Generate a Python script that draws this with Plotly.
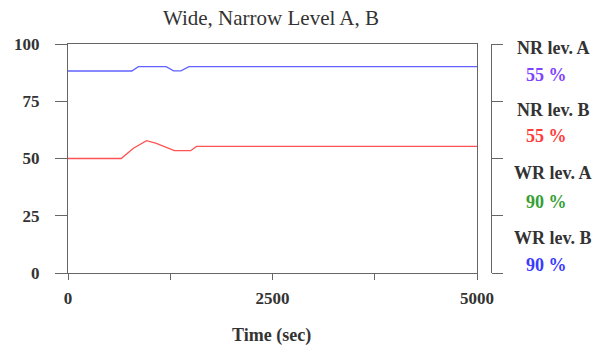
import plotly.graph_objects as go

time_blue = [0, 780, 860, 1200, 1290, 1380, 1480, 1560, 5000]
level_blue = [88.2, 88.2, 90.1, 90.1, 88.3, 88.3, 90.1, 90.1, 90.1]

time_red = [0, 650, 800, 960, 1080, 1300, 1500, 1570, 5000]
level_red = [50.0, 50.0, 54.5, 57.8, 56.6, 53.4, 53.4, 55.3, 55.3]

x_ticks = [0, 1250, 2500, 3750, 5000]
x_ticktext = ["0", "", "2500", "", "5000"]
y_ticks = [0, 25, 50, 75, 100]
y_ticktext = ["0", "25", "50", "75", "100"]

panel_names = ["NR lev. A", "NR lev. B", "WR lev. A", "WR lev. B"]
panel_values = ["55 %", "55 %", "90 %", "90 %"]
panel_colors = ["#8044ff", "#ff3c3c", "#34a034", "#3a3aff"]

SERIF = "Liberation Serif, Times New Roman, serif"
TXT = "#333333"
AX = "#666666"

# pixel geometry of the figure
W, H = 599, 351
L, R_AX, T, B = 68, 491, 44, 273
FRAME_R = 477
PW, PH = R_AX - L, B - T


def px(xp):
    return (xp - L) / PW


def py(yp):
    return (B - yp) / PH


def bold(labels):
    return ["<b>" + s + "</b>" if s else "" for s in labels]


fig = go.Figure()
fig.add_trace(go.Scatter(x=time_blue, y=level_blue, mode="lines",
                         line=dict(color="#6262ff", width=1.3), showlegend=False))
fig.add_trace(go.Scatter(x=time_red, y=level_red, mode="lines",
                         line=dict(color="#ff5252", width=1.3), showlegend=False))
fig.add_trace(go.Scatter(x=[0], y=[0], yaxis="y2", mode="markers",
                         marker=dict(opacity=0), showlegend=False, hoverinfo="skip"))

tickfont = dict(family=SERIF, size=17, color=TXT)

fig.update_layout(
    width=W, height=H,
    margin=dict(l=L, r=W - R_AX, t=T, b=H - B, pad=0),
    paper_bgcolor="white", plot_bgcolor="white",
    font=dict(family=SERIF, color=TXT),
    title=dict(text="Wide, Narrow Level A, B", x=271 / W, xref="container",
               y=1 - 18 / H, yref="container", xanchor="center", yanchor="middle",
               font=dict(family=SERIF, size=21, color=TXT)),
    xaxis=dict(range=[0, 5000], domain=[0, (FRAME_R - L) / PW],
               tickvals=x_ticks, ticktext=bold(x_ticktext),
               ticks="outside", ticklen=6, tickcolor=AX, tickwidth=1.2,
               showline=True, linecolor=AX, linewidth=1.2, mirror=True,
               showgrid=False, zeroline=False, tickfont=tickfont, ticklabelstandoff=3),
    yaxis=dict(range=[0, 100], tickvals=y_ticks, ticktext=bold(y_ticktext),
               ticks="outside", ticklen=12, tickcolor=AX, tickwidth=1.2,
               showline=True, linecolor=AX, linewidth=1.2, mirror=True,
               showgrid=False, zeroline=False, ticklabelstandoff=12,
               tickfont=tickfont),
    yaxis2=dict(range=[0, 100], tickvals=y_ticks, overlaying="y", side="right",
                anchor="free", position=1.0,
                showticklabels=False, ticks="outside", ticklen=11, tickcolor=AX,
                tickwidth=1.2, showline=True, linecolor=AX, linewidth=1.2,
                showgrid=False, zeroline=False),
)

fig.add_annotation(text="<b>Time (sec)</b>", x=px(271), y=py(336), xref="paper", yref="paper",
                   showarrow=False, xanchor="center", yanchor="middle",
                   font=dict(family=SERIF, size=18, color=TXT))

name_y = [48, 110, 173, 238]
value_y = [75, 136, 202, 265]
for name, val, col, yn, yv in zip(panel_names, panel_values, panel_colors, name_y, value_y):
    fig.add_annotation(text="<b>" + name + "</b>", x=px(553), y=py(yn),
                       xref="paper", yref="paper", showarrow=False, xanchor="center",
                       yanchor="middle", font=dict(family=SERIF, size=18, color=TXT))
    fig.add_annotation(text="<b>" + val + "</b>", x=px(546), y=py(yv),
                       xref="paper", yref="paper", showarrow=False, xanchor="center",
                       yanchor="middle", font=dict(family=SERIF, size=18, color=col))

fig.write_html("out.html", config={"displayModeBar": False},
               post_script="document.body.style.margin='0px';")
